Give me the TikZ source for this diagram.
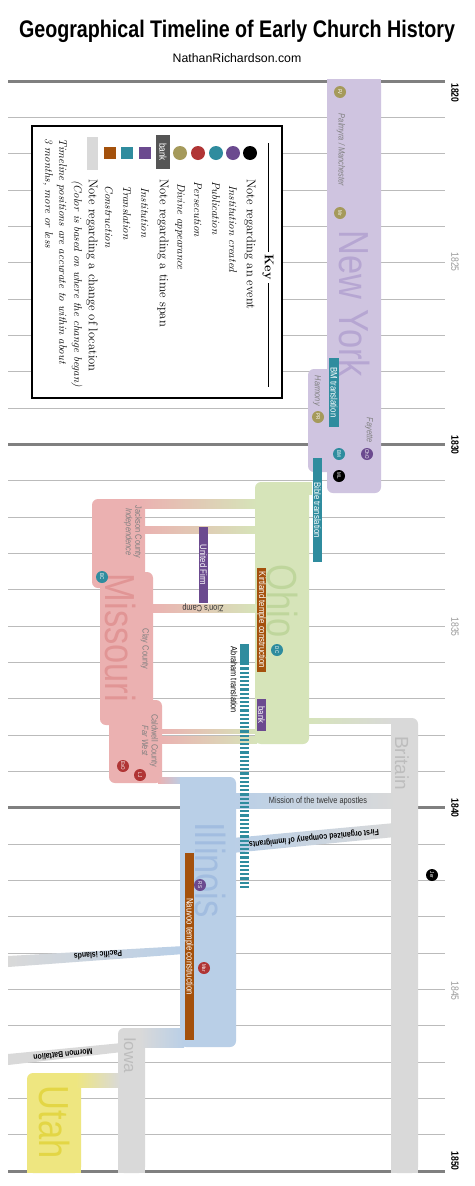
\documentclass[tikz,border=0pt]{standalone}
\usepackage{fontspec}
\newfontfamily\narrow[FakeStretch=0.82]{Liberation Sans}
\newfontfamily\arial{Liberation Sans}
\definecolor{nyc}{HTML}{CFC4E0}
\definecolor{nyt}{HTML}{B6A6D2}
\definecolor{ohc}{HTML}{D6E4B9}
\definecolor{oht}{HTML}{BFD69C}
\definecolor{moc}{HTML}{EBB1B1}
\definecolor{mot}{HTML}{E19595}
\definecolor{ilc}{HTML}{B9CFE7}
\definecolor{ilt}{HTML}{A2BDE0}
\definecolor{grc}{HTML}{D9D9D9}
\definecolor{grt}{HTML}{BDBDBD}
\definecolor{utc}{HTML}{EEE680}
\definecolor{utt}{HTML}{E3D645}
\definecolor{kteal}{HTML}{2F8C9E}
\definecolor{kpur}{HTML}{6B4A8F}
\definecolor{kbrn}{HTML}{A4510C}
\definecolor{kred}{HTML}{B03535}
\definecolor{kolv}{HTML}{A59A5B}
\definecolor{gline}{HTML}{BBBBBB}
\definecolor{tline}{HTML}{808080}
\definecolor{placegray}{HTML}{808080}
\definecolor{bankgray}{HTML}{555555}
\tikzset{
 thinline/.style={draw=gline, line width=1},
 thickline/.style={draw=tline, line width=3},
 bigname/.style={inner sep=0, rotate=-90, font=\narrow\fontsize{42}{42}\selectfont},
 place/.style={inner sep=0, rotate=-90, text=placegray, font=\narrow\fontsize{9}{9.5}\selectfont, align=center},
 dot/.style={circle, inner sep=0, minimum size=12, rotate=-90, text=white, font=\narrow\fontsize{5.5}{6}\selectfont},
 bartxt/.style={inner sep=0, rotate=-90, text=white, font=\narrow\fontsize{9.5}{10}\selectfont, minimum height=9},
 bandtxt/.style={inner sep=0, text=black!80, font=\narrow\fontsize{9}{10}\selectfont},
 yr/.style={inner sep=0, rotate=-90, font=\narrow\fontsize{10.5}{11}\selectfont},
 keytxt/.style={inner sep=0, rotate=-90, anchor=west, font=\fontsize{12.6}{13}\selectfont},
 keyit/.style={inner sep=0, rotate=-90, anchor=west, font=\itshape\fontsize{11.2}{13}\selectfont},
 keydot/.style={circle, inner sep=0, minimum size=14},
 keysq/.style={rectangle, inner sep=0, minimum size=12},
}
\begin{document}
\begin{tikzpicture}[x=1pt,y=-1pt]
\useasboundingbox[fill=white] (0,0) rectangle (474,1186);
% title
\node[anchor=base, inner sep=0, font=\narrow\bfseries\fontsize{24}{28}\selectfont] (title) at (237,37) {Geographical Timeline of Early Church History};
\node[anchor=base, inner sep=0, font=\arial\fontsize{12.3}{14}\selectfont] (sub) at (237,62) {NathanRichardson.com};
% grid
\foreach \i in {0,...,30}{\pgfmathsetmacro\yy{81+\i*36.333}\draw[thinline] (8,\yy) -- (445,\yy);}
\foreach \i in {0,10,20,30}{\pgfmathsetmacro\yy{81+\i*36.333}\draw[thickline] (8,\yy) -- (445,\yy);}
% years
\node[yr, font=\narrow\bfseries\fontsize{10.5}{11}\selectfont] (y1820) at (455,93) {1820};
\node[yr, text=gray!80] (y1825) at (455,262) {1825};
\node[yr, font=\narrow\bfseries\fontsize{10.5}{11}\selectfont] (y1830) at (455,445) {1830};
\node[yr, text=gray!80] (y1835) at (455,627) {1835};
\node[yr, font=\narrow\bfseries\fontsize{10.5}{11}\selectfont] (y1840) at (455,808) {1840};
\node[yr, text=gray!80] (y1845) at (455,991) {1845};
\node[yr, font=\narrow\bfseries\fontsize{10.5}{11}\selectfont] (y1850) at (455,1161) {1850};

% key
\draw[line width=1.3, fill=white] (32,126) rectangle (282,398);
\node[inner sep=0, rotate=-90, font=\bfseries\fontsize{12.6}{13}\selectfont] (keyt) at (268,267) {Key};
\draw[line width=0.9] (268,143) -- (268,252);
\draw[line width=0.9] (268,283) -- (268,387);
\node[keydot, fill=black] (k1) at (250,153) {};
\node[keydot, fill=kpur] (k2) at (233,153) {};
\node[keydot, fill=kteal] (k3) at (216,153) {};
\node[keydot, fill=kred] (k4) at (198,153) {};
\node[keydot, fill=kolv] (k5) at (180,153) {};
\node[inner sep=0, rotate=-90, fill=bankgray, text=white, minimum width=34, minimum height=14, font=\narrow\fontsize{10}{10}\selectfont] (k6) at (163,152) {bank};
\node[keysq, fill=kpur] (k7) at (145,153) {};
\node[keysq, fill=kteal] (k8) at (127,153) {};
\node[keysq, fill=kbrn] (k9) at (110,153) {};
\node[inner sep=0, rotate=-90, fill=grc, minimum width=33, minimum height=11] (k10) at (92.5,153.5) {};
\node[keytxt] (t1) at (250,179) {Note regarding an event};
\node[keyit] (t2) at (233,185) {Institution created};
\node[keyit] (t3) at (216,181) {Publication};
\node[keyit] (t4) at (198,181) {Persecution};
\node[keyit] (t5) at (180,183) {Divine appearance};
\node[keytxt] (t6) at (163,179) {Note regarding a time span};
\node[keyit] (t7) at (145,187) {Institution};
\node[keyit] (t8) at (127,185) {Translation};
\node[keyit] (t9) at (109,185) {Construction};
\node[keytxt] (t10) at (92,179) {Note regarding a change of location};
\node[keyit] (t11) at (77,180) {(Color is based on where the change began)};
\node[keyit] (t12) at (62,138) {Timeline positions are accurate to within about};
\node[keyit] (t13) at (48,138) {3 months, more or less};

% ---- regions ----
% New York
\fill[nyc, rounded corners=6] (327,79) rectangle (381,493);
\fill[nyc] (327,79) rectangle (381,100);
\fill[nyc, rounded corners=6] (308,369) rectangle (335,472);
% Ohio
\fill[ohc, rounded corners=6] (255,482) rectangle (309,744);
\fill[ohc] (300,482) rectangle (312,495);
% Missouri
\fill[moc, rounded corners=6] (92,499) rectangle (145,588);
\fill[moc, rounded corners=6] (100,572) rectangle (153,725);
\fill[moc, rounded corners=6] (109,700) rectangle (162,783);
\shade[left color=moc, right color=ohc] (140,499) rectangle (257,508);
\shade[left color=moc, right color=ohc] (140,526) rectangle (257,533);
\shade[left color=moc, right color=ohc] (150,604) rectangle (257,612);
\shade[left color=moc, right color=ohc] (159,729) rectangle (257,733);
\shade[left color=moc, right color=ohc] (159,736) rectangle (257,743);
% Britain
\shade[left color=ohc, right color=grc] (305,718) rectangle (395,723);
\fill[grc, rounded corners=6] (391,718) rectangle (418,1173);
\fill[grc] (391,718) rectangle (400,730);
\fill[grc] (391,1160) rectangle (418,1173);
% Illinois
\shade[left color=moc, right color=ilc] (158,777) rectangle (182,783);
\fill[ilc, rounded corners=6] (180,777) rectangle (236,1047);
\fill[ilc] (180,777) rectangle (190,790);
\shade[left color=ilc, right color=grc] (232,793) rectangle (395,808);
\shade[left color=ilc, right color=grc] (232,838) -- (395,823) -- (395,837) -- (232,853) -- cycle;
\shade[left color=grc, right color=ilc] (8,956) -- (184,946) -- (184,954) -- (8,967) -- cycle;
% Iowa
\fill[grc, rounded corners=6] (118,1028) rectangle (145,1173);
\fill[grc] (118,1160) rectangle (145,1173);
\shade[left color=grc, right color=ilc] (140,1028) rectangle (184,1047);
\fill[grc] (8,1054) -- (122,1043) -- (122,1052) -- (8,1065) -- cycle;
% Utah
\fill[utc, rounded corners=6] (27,1073) rectangle (81,1173);
\fill[utc] (27,1160) rectangle (81,1173);
\shade[left color=utc, right color=grc] (76,1073) rectangle (120,1087);

% big names
\node[bigname, text=nyt] (ny) at (355,304) {New York};
\node[bigname, text=oht] (oh) at (283,601) {Ohio};
\node[bigname, text=mot] (mo) at (121,638) {Missouri};
\node[bigname, text=ilt] (il) at (211,870) {Illinois};
\node[bigname, text=utt] (ut) at (55,1122) {Utah};
\node[inner sep=0, rotate=-90, text=grt, font=\arial\fontsize{19}{19}\selectfont] (br) at (402,763) {Britain};
\node[inner sep=0, rotate=-90, text=grt, font=\arial\fontsize{17}{17}\selectfont] (io) at (130,1055) {Iowa};

% places
\node[place] (palm) at (341,150) {\textit{Palmyra / Manchester}};
\node[place] (harm) at (317,391) {\textit{Harmony}};
\node[place] (fay) at (369,430) {\textit{Fayette}};
\node[place] (jack) at (133,532) {Jackson County\\\textit{Independence}};
\node[place] (clay) at (145,649) {Clay County};
\node[place] (cald) at (150,741) {Caldwell County\\\textit{Far West}};

% bars
\node[bartxt, fill=kteal, minimum width=69, minimum height=10] (bmt) at (334,392.5) {BM translation};
\node[bartxt, fill=kteal, minimum width=104] (bib) at (317.5,510) {Bible translation};
\node[bartxt, fill=kpur, minimum width=76] (uf) at (203.5,565) {United Firm};
\node[bartxt, fill=kbrn, minimum width=104] (kt) at (261.5,620) {Kirtland temple construction};
\node[bartxt, fill=kpur, minimum width=32] (bank) at (261.5,715) {bank};
\node[inner sep=0, rotate=-90, fill=kteal, minimum width=19, minimum height=9] (abs) at (244.5,653.5) {};
\coordinate (abend) at (244.5,888);
\draw[kteal, line width=9, dash pattern=on 2.2 off 2] (abs.east) -- (abend);
\node[inner sep=0, rotate=-90, font=\narrow\fontsize{9}{10}\selectfont] (abt) at (234,680) {Abraham translation};
\node[bartxt, fill=kbrn, minimum width=187] (nt) at (189,946.5) {Nauvoo temple construction};

% band labels
\node[bandtxt, rotate=180] (zc) at (203,608) {Zion's Camp};
\node[bandtxt] (mis) at (318,801) {Mission of the twelve apostles};
\node[bandtxt, text=black, font=\narrow\bfseries\fontsize{8.5}{10}\selectfont, rotate=185.7] (foc) at (314,838) {First organized company of immigrants};
\node[bandtxt, text=black, font=\narrow\bfseries\fontsize{8.5}{10}\selectfont, rotate=183.7] (pac) at (98,955) {Pacific islands};
\node[bandtxt, text=black, font=\narrow\bfseries\fontsize{8.5}{10}\selectfont, rotate=186] (mb) at (63,1055) {Mormon Battalion};

% dots
\node[dot, fill=kolv] (fv) at (340,92) {FV};
\node[dot, fill=kolv] (mr) at (340,213) {Mr};
\node[dot, fill=kolv] (pr) at (318,417) {PR};
\node[dot, fill=kpur] (cho) at (367,454) {ChO};
\node[dot, fill=kteal] (bm) at (339,454) {BM};
\node[dot, fill=black] (ml) at (339,476) {ML};
\node[dot, fill=kteal] (bc) at (102,577) {BC};
\node[dot, fill=kred] (exo) at (123,766) {ExO};
\node[dot, fill=kred] (lj) at (140,775) {LJ};
\node[dot, fill=kteal] (dc) at (277,650) {DC};
\node[dot, fill=kpur] (rs) at (200,885) {RS};
\node[dot, fill=kred] (mar) at (204,968) {Mar};
\node[dot, fill=black] (jer) at (432,875) {Jer};
\end{tikzpicture}
\end{document}
